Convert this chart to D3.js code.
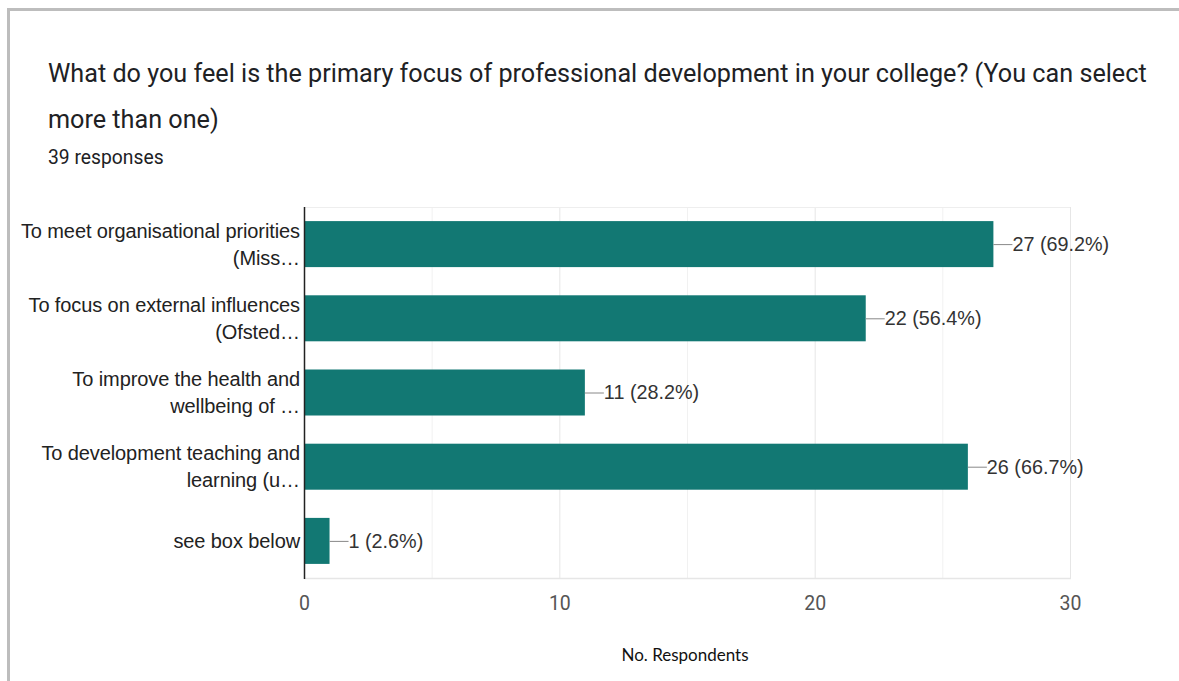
<!DOCTYPE html>
<html>
<head>
<meta charset="utf-8">
<script src="https://cdn.jsdelivr.net/npm/d3@7"></script>
<style>
  html, body { margin: 0; padding: 0; background: #fff; }
  svg { display: block; }
</style>
</head>
<body>
<svg id="chart" width="1179" height="681"></svg>
<script>
// Survey question, response count and answer options
const titleLines = [
  "What do you feel is the primary focus of professional development in your college? (You can select",
  "more than one)"
];
const responsesText = "39 responses";

const categories = [
  ["To meet organisational priorities", "(Miss\u2026"],
  ["To focus on external influences", "(Ofsted\u2026"],
  ["To improve the health and", "wellbeing of \u2026"],
  ["To development teaching and", "learning (u\u2026"],
  ["see box below"]
];
const counts = [27, 22, 11, 26, 1];
const percentLabels = ["69.2%", "56.4%", "28.2%", "66.7%", "2.6%"];
const tickValues = [0, 10, 20, 30];
const gridValues = [5, 10, 15, 20, 25, 30];
const axisTitle = "No. Respondents";

const svg = d3.select("#chart");

// outer card frame
svg.append("path")
  .attr("d", "M8.5,700 V9.5 H1200")
  .attr("fill", "none")
  .attr("stroke", "#bdbdbd")
  .attr("stroke-width", 3);

// heading
const titleG = svg.append("g")
  .attr("font-family", "Roboto, 'Noto Sans', sans-serif")
  .attr("fill", "#202124");
titleG.selectAll("text.title")
  .data(titleLines)
  .join("text")
  .attr("class", "title")
  .attr("x", 48)
  .attr("y", (d, i) => 82 + i * 46)
  .attr("font-size", 25.2)
  .text(d => d);
titleG.append("text")
  .attr("x", 48)
  .attr("y", 164)
  .attr("font-size", 19.3)
  .text(responsesText);

// plot area
const plot = { left: 304, right: 1070, top: 207, bottom: 578 };

const x = d3.scaleLinear()
  .domain([0, 30])
  .range([plot.left, plot.right]);

const y = d3.scaleBand()
  .domain(d3.range(categories.length))
  .range([plot.top, plot.bottom])
  .paddingInner(0.38)
  .paddingOuter(0.19);

// vertical gridlines
svg.append("g")
  .selectAll("line")
  .data(gridValues)
  .join("line")
  .attr("x1", d => x(d) + 0.5)
  .attr("x2", d => x(d) + 0.5)
  .attr("y1", plot.top)
  .attr("y2", plot.bottom)
  .attr("stroke", d => d % 10 === 0 ? "#e6e6e6" : "#f1f1f1")
  .attr("stroke-width", 1);

// top and bottom frame lines of the plot
svg.append("line")
  .attr("x1", plot.left).attr("x2", plot.right)
  .attr("y1", plot.top + 0.5).attr("y2", plot.top + 0.5)
  .attr("stroke", "#eeeeee");
svg.append("line")
  .attr("x1", plot.left).attr("x2", plot.right + 1)
  .attr("y1", plot.bottom + 0.5).attr("y2", plot.bottom + 0.5)
  .attr("stroke", "#e6e6e6")
  .attr("stroke-width", 1.5);

// bars
svg.append("g")
  .selectAll("rect")
  .data(counts)
  .join("rect")
  .attr("x", x(0))
  .attr("y", (d, i) => y(i))
  .attr("width", d => x(d) - x(0))
  .attr("height", y.bandwidth())
  .attr("fill", "#127873");

// value labels with leader lines
const valG = svg.append("g")
  .attr("font-family", "'Liberation Sans', Arial, sans-serif")
  .attr("font-size", 19.8)
  .attr("fill", "#333");
counts.forEach((c, i) => {
  const cy = y(i) + y.bandwidth() / 2;
  valG.append("line")
    .attr("x1", x(c)).attr("x2", x(c) + 19)
    .attr("y1", cy + 0.5).attr("y2", cy + 0.5)
    .attr("stroke", "#888")
    .attr("stroke-width", 1);
  valG.append("text")
    .attr("x", x(c) + 19)
    .attr("y", cy)
    .attr("dy", "0.35em")
    .text(`${c} (${percentLabels[i]})`);
});

// category axis
const yAxis = d3.axisLeft(y)
  .tickSize(0)
  .tickFormat("");
const yAxisG = svg.append("g")
  .attr("transform", `translate(${plot.left},0)`)
  .call(yAxis);
yAxisG.select(".domain")
  .attr("stroke", "#222")
  .attr("stroke-width", 1.5)
  .attr("d", `M0.5,${plot.top}V${plot.bottom + 1}`);

const catG = svg.append("g")
  .attr("font-family", "'Liberation Sans', Arial, sans-serif")
  .attr("font-size", 20)
  .attr("fill", "#222")
  .attr("text-anchor", "end");
categories.forEach((lines, i) => {
  const cy = y(i) + y.bandwidth() / 2;
  const lh = 27;
  const start = cy - (lines.length - 1) * lh / 2;
  lines.forEach((t, j) => {
    catG.append("text")
      .attr("x", plot.left - 4)
      .attr("y", start + j * lh)
      .attr("dy", "0.35em")
      .attr("letter-spacing", -0.1)
      .text(t);
  });
});

// value axis
const xAxis = d3.axisBottom(x)
  .tickValues(tickValues)
  .tickSize(0)
  .tickPadding(18);
const xAxisG = svg.append("g")
  .attr("transform", `translate(0,${plot.bottom})`)
  .call(xAxis);
xAxisG.select(".domain").remove();
xAxisG.selectAll("text")
  .attr("font-family", "Roboto, 'Noto Sans', sans-serif")
  .attr("font-size", 19.5)
  .attr("fill", "#555");

// axis title
svg.append("text")
  .attr("x", 685)
  .attr("y", 661)
  .attr("text-anchor", "middle")
  .attr("font-family", "Lato, 'Open Sans', sans-serif")
  .attr("font-size", 17)
  .attr("fill", "#111")
  .text(axisTitle);
</script>
</body>
</html>
